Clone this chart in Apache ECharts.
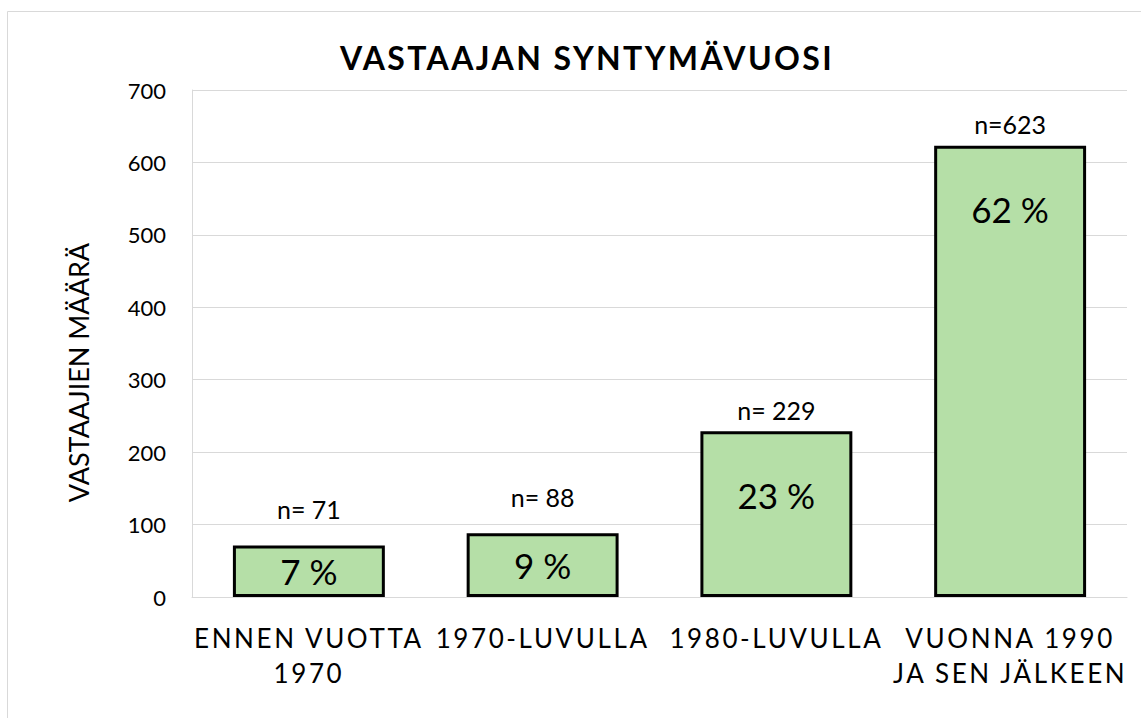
<!DOCTYPE html>
<html>
<head>
<meta charset="utf-8">
<script src="https://cdn.jsdelivr.net/npm/echarts@6/dist/echarts.min.js"></script>
<style>
  html, body { margin: 0; padding: 0; background: #fff; }
  #chart { width: 1141px; height: 718px; }
  #chart text[style*="sans-serif"] { letter-spacing: 2.6px; }
  #chart text[style*="Arial"] { letter-spacing: 2.4px; }
</style>
</head>
<body>
<div id="chart"></div>
<script>
const titleText = 'VASTAAJAN SYNTYMÄVUOSI';
const yAxisName = 'VASTAAJIEN MÄÄRÄ';
const categories = ['ENNEN VUOTTA\n1970', '1970-LUVULLA', '1980-LUVULLA', 'VUONNA 1990\nJA SEN JÄLKEEN'];
const counts = [71, 88, 229, 623];
const countLabels = ['n= 71', 'n= 88', 'n= 229', 'n=623'];
const percentLabels = ['7 %', '9 %', '23 %', '62 %'];
const yTicks = [0, 100, 200, 300, 400, 500, 600, 700];

const chart = echarts.init(document.getElementById('chart'), null, { renderer: 'svg' });

const barData = counts.map((v, i) => ({
  value: v,
  label: v < 150
    ? { position: 'inside', formatter: percentLabels[i] }
    : { position: 'insideTop', distance: 46, formatter: percentLabels[i] }
}));
const topData = counts.map((v, i) => ({
  value: v,
  label: { distance: v < 150 ? 24 : 9, formatter: countLabels[i] }
}));

chart.setOption({
  animation: false,
  backgroundColor: '#fff',
  graphic: [{
    type: 'rect',
    shape: { x: 7.5, y: 11.5, width: 1200, height: 800 },
    style: { fill: 'none', stroke: '#d9d9d9', lineWidth: 1 },
    silent: true
  }],
  title: {
    text: titleText,
    left: 582,
    top: 36,
    textAlign: 'center',
    textStyle: { fontFamily: 'Lato, Arial', fontWeight: 'bold', fontSize: 32, color: '#000' }
  },
  grid: { left: 192, right: 14, top: 90, bottom: 121 },
  xAxis: {
    type: 'category',
    data: categories,
    axisLine: { show: true, lineStyle: { color: '#d9d9d9', width: 1 } },
    axisTick: { show: false },
    axisLabel: {
      interval: 0,
      margin: 23,
      lineHeight: 35,
      fontSize: 26,
      fontFamily: 'Lato, sans-serif',
      color: '#000'
    }
  },
  yAxis: {
    type: 'value',
    min: yTicks[0],
    max: yTicks[yTicks.length - 1],
    interval: yTicks[1] - yTicks[0],
    name: yAxisName,
    nameLocation: 'middle',
    nameRotate: 90,
    nameGap: 100,
    nameTextStyle: { fontFamily: 'Lato', fontSize: 27, color: '#000', padding: [0, 58, 0, 0] },
    axisLine: { show: true, lineStyle: { color: '#d9d9d9', width: 1 } },
    axisTick: { show: false },
    axisLabel: { margin: 26, fontSize: 22, fontFamily: 'Lato', color: '#000' },
    splitLine: { lineStyle: { color: '#d9d9d9', width: 1 } }
  },
  series: [
    {
      type: 'bar',
      data: barData,
      barWidth: '65%',
      z: 3,
      itemStyle: { color: '#b5dfa7', borderColor: '#000', borderWidth: 3 },
      label: { show: true, fontFamily: 'Lato', fontSize: 35, color: '#000' }
    },
    {
      type: 'bar',
      data: topData,
      barWidth: '65%',
      barGap: '-100%',
      z: 2,
      itemStyle: { color: 'rgba(0,0,0,0)' },
      label: { show: true, position: 'top', fontFamily: 'Lato', fontSize: 25, color: '#000' }
    }
  ]
});
</script>
</body>
</html>
